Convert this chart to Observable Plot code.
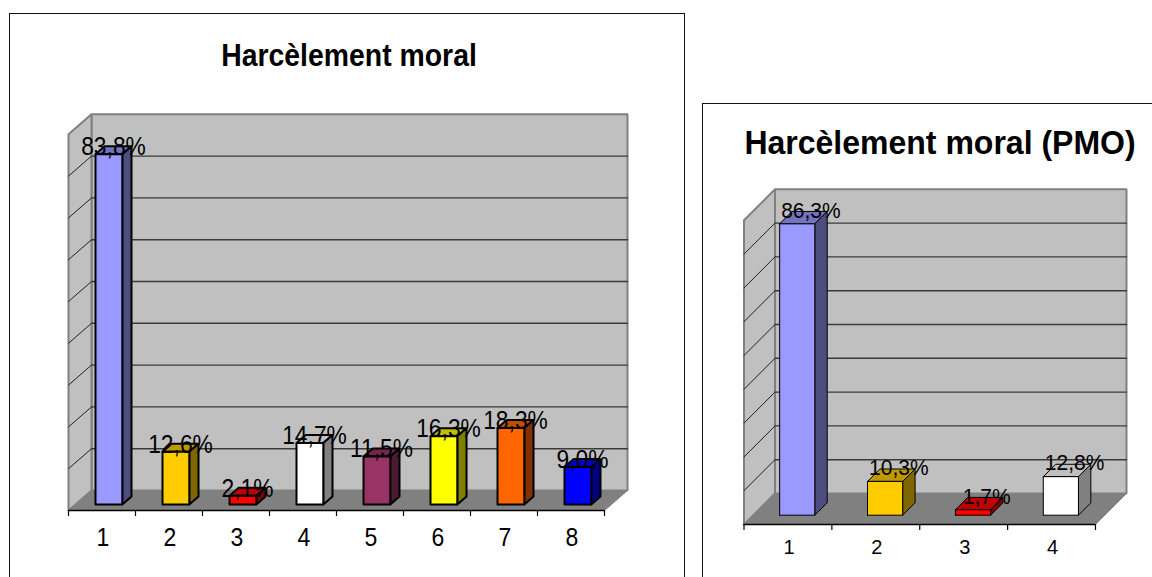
<!DOCTYPE html>
<html lang="fr">
<head>
<meta charset="utf-8">
<script src="https://cdn.jsdelivr.net/npm/d3@7"></script>
<script src="https://cdn.jsdelivr.net/npm/@observablehq/plot@0.6"></script>
<style>
  html, body { margin: 0; padding: 0; background: #fff; width: 1152px; height: 577px; overflow: hidden; }
  body { position: relative; font-family: "Liberation Sans", Arial, sans-serif; }
  .frame { position: absolute; border: 1.5px solid #111; box-sizing: border-box; pointer-events: none; }
  .title { position: absolute; font-weight: bold; color: #000; white-space: nowrap; line-height: 1; }
  .plot { position: absolute; }
  .plot svg { display: block; }
</style>
</head>
<body>
<script>
const titleLeft = "Harcèlement moral";
const categoriesLeft = [1, 2, 3, 4, 5, 6, 7, 8];
const valuesLeft = [83.8, 12.6, 2.1, 14.7, 11.5, 16.3, 18.3, 9.0];
const labelsLeft = ["83,8%", "12,6%", "2,1%", "14,7%", "11,5%", "16,3%", "18,3%", "9,0%"];

const titleRight = "Harcèlement moral (PMO)";
const categoriesRight = [1, 2, 3, 4];
const valuesRight = [86.2, 10.0, 1.6, 11.4];
const labelsRight = ["86,3%", "10,3%", "1,7%", "12,8%"];

const gridValues = [10, 20, 30, 40, 50, 60, 70, 80];
const wallTop = 90;

const front = ["#9999FF", "#FFCC00", "#FF0000", "#FFFFFF", "#993366", "#FFFF00", "#FF6600", "#0000FF"];
const topFace = ["#7373BF", "#BF9900", "#BF0000", "#BFBFBF", "#73264D", "#BFBF00", "#BF4D00", "#0000BF"];
const side = ["#4D4D80", "#806600", "#800000", "#808080", "#4D1A33", "#808000", "#803300", "#000080"];

function chart({cats, vals, labels, page, size, m, depthX, depthY, barStroke, tickSize, labelSize, labelDx, labelDy, tickPad, stretch}) {
  const n = cats.length;
  const P = (x, y, d) => ({x: x + depthX * d, y: y + depthY * d});
  const poly = (pts, opts) => Plot.line([...pts, pts[0]], {x: "x", y: "y", strokeLinejoin: "miter", ...opts});
  const marks = [];
  // walls and floor
  const wall = {fill: "#C0C0C0", stroke: "#808080", strokeWidth: 2};
  marks.push(poly([P(0, 0, 1), P(n, 0, 1), P(n, wallTop, 1), P(0, wallTop, 1)], wall));
  marks.push(poly([P(0, 0, 0), P(0, 0, 1), P(0, wallTop, 1), P(0, wallTop, 0)], wall));
  marks.push(poly([P(0, 0, 0), P(n, 0, 0), P(n, 0, 1), P(0, 0, 1)], {fill: "#808080", stroke: "#808080", strokeWidth: 1}));
  // gridlines
  gridValues.forEach(v => {
    marks.push(Plot.line([P(0, v, 0), P(0, v, 1)], {x: "x", y: "y", stroke: "#222", strokeWidth: 1}));
    marks.push(Plot.line([P(0, v, 1), P(n, v, 1)], {x: "x", y: "y", stroke: "#3a3a3a", strokeWidth: 1.4}));
  });
  // axis
  marks.push(Plot.axisX({ticks: d3.range(n + 1), tickFormat: () => "", label: null, tickSize: 6, stroke: "#000", strokeWidth: 1.2}));
  marks.push(Plot.ruleY([0], {x1: 0, x2: n, stroke: "#000", strokeWidth: 1.5}));
  marks.push(Plot.axisX({ticks: cats.map(c => c - 0.5), tickFormat: d => String(d + 0.5), label: null, tickSize: 0, tickPadding: tickPad, fontSize: tickSize, fill: "#000", dx: 1}));
  // bars
  const w = 0.2, d0 = 0.3, d1 = 0.7;
  vals.forEach((v, i) => {
    const c = i + 0.5;
    const style = {stroke: "#000", strokeWidth: barStroke};
    marks.push(poly([P(c - w, v, d0), P(c + w, v, d0), P(c + w, v, d1), P(c - w, v, d1)], {...style, fill: topFace[i]}));
    marks.push(poly([P(c + w, 0, d0), P(c + w, 0, d1), P(c + w, v, d1), P(c + w, v, d0)], {...style, fill: side[i]}));
    marks.push(poly([P(c - w, 0, d0), P(c + w, 0, d0), P(c + w, v, d0), P(c - w, v, d0)], {...style, fill: front[i]}));
  });
  // data labels
  marks.push(Plot.text(vals.map((v, i) => ({...P(i + 0.5, v, 0.5), label: labels[i]})), {
    x: "x", y: "y", text: "label",
    fontSize: labelSize, fill: "#000", dx: labelDx, dy: labelDy, textAnchor: "middle", lineAnchor: "middle"
  }));
  const svg = Plot.plot({
    width: size[0], height: size[1],
    marginLeft: m[0], marginRight: m[1], marginTop: m[2], marginBottom: m[3],
    x: {domain: [0, n], axis: null},
    y: {domain: [0, 100], axis: null},
    style: {fontFamily: '"Liberation Sans", Arial, sans-serif', background: "transparent", overflow: "visible"},
    marks
  });
  svg.querySelectorAll("text").forEach(t => {
    const base = t.getAttribute("transform") || "";
    t.setAttribute("transform", `${base} scale(1,${stretch})`);
  });
  const div = document.createElement("div");
  div.className = "plot";
  div.style.left = page[0] + "px";
  div.style.top = page[1] + "px";
  div.appendChild(svg);
  document.body.appendChild(div);
}

function box(left, top, width, height) {
  const d = document.createElement("div");
  d.className = "frame";
  Object.assign(d.style, {left: left + "px", top: top + "px", width: width + "px", height: height + "px"});
  document.body.appendChild(d);
}
function title(text, cx, cy, size, stretch) {
  const d = document.createElement("div");
  d.className = "title";
  d.textContent = text;
  Object.assign(d.style, {left: cx + "px", top: cy + "px", fontSize: size + "px", transform: `translate(-50%, -50%) scale(1, ${stretch})`});
  document.body.appendChild(d);
}

chart({
  cats: categoriesLeft, vals: valuesLeft, labels: labelsLeft, page: [9, 13], size: [676, 564],
  m: [59, 81, 79, 67], depthX: 23 / 67, depthY: 20 / 4.18, barStroke: 2,
  tickSize: 23, labelSize: 22.8, labelDx: 0, labelDy: -3, tickPad: 18, stretch: 1.1
});
chart({
  cats: categoriesRight, vals: valuesRight, labels: labelsRight, page: [702, 103], size: [450, 474],
  m: [41.5, 57, 83, 53], depthX: 31 / 87.9, depthY: 31 / 3.38, barStroke: 1,
  tickSize: 20, labelSize: 21, labelDx: 7.5, labelDy: -7, tickPad: 15, stretch: 1.03
});
box(9, 13, 676, 620);
box(702, 103, 520, 520);
title(titleLeft, 349, 55, 28.4, 1.1);
title(titleRight, 940, 143, 32, 1.02);
</script>
</body>
</html>
